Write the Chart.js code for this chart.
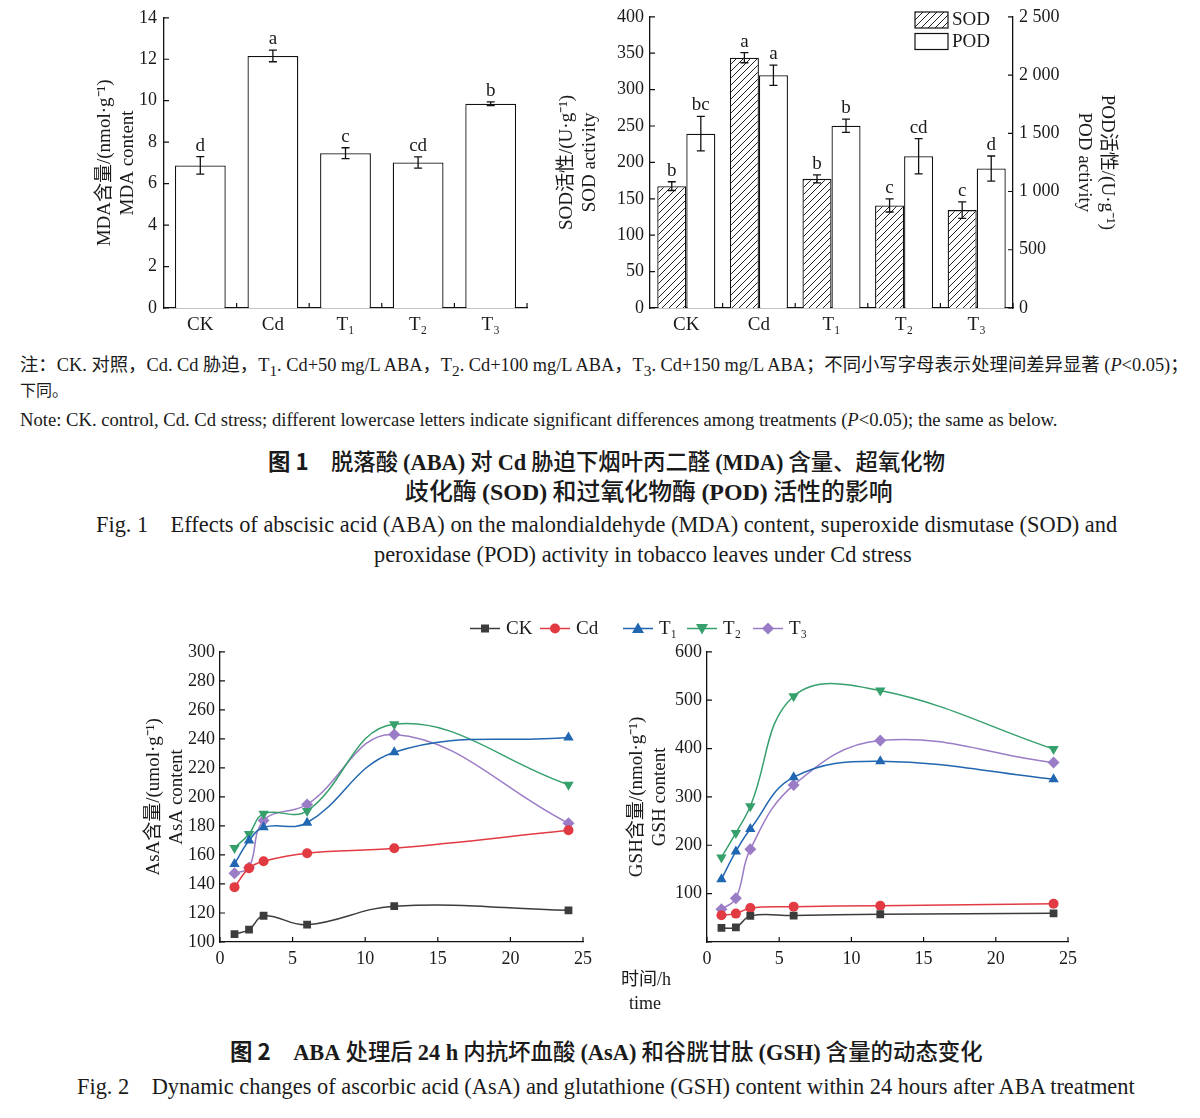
<!DOCTYPE html>
<html>
<head>
<meta charset="utf-8">
<script src="https://cdn.jsdelivr.net/npm/chart.js@4.4.0/dist/chart.umd.min.js"></script>
<style>
  body { margin:0; width:1200px; height:1118px; background:#fff; position:relative; overflow:hidden;
         font-family:'Liberation Serif','Noto Sans CJK SC',serif; color:#1a1a1a; }
  canvas { position:absolute; }
  .t { position:absolute; white-space:nowrap; line-height:1; transform:translateY(-50%); }
  .cap { font-family:'Noto Sans CJK SC',sans-serif; font-weight:500; }
  .cap b { font-family:'Liberation Serif',serif; font-weight:bold; }
  .cap b.h { font-family:'Noto Sans CJK SC',sans-serif; }
  .leg { position:absolute; display:flex; align-items:center; font-size:19px; transform:translateY(-50%); }
  .leg span { margin-left:6px; }
</style>
</head>
<body>

<canvas id="mda" width="470" height="345" style="left:80px;top:0px"></canvas>
<canvas id="sod" width="600" height="345" style="left:550px;top:0px"></canvas>
<canvas id="asa" width="500" height="345" style="left:100px;top:636px"></canvas>
<canvas id="gsh" width="490" height="345" style="left:600px;top:636px"></canvas>

<div class="t" data-w="1170" style="left:20px;top:367px;font-size:16px">注：CK. 对照，Cd. Cd 胁迫，T<sub>1</sub>. Cd+50 mg/L ABA，T<sub>2</sub>. Cd+100 mg/L ABA，T<sub>3</sub>. Cd+150 mg/L ABA；不同小写字母表示处理间差异显著 (<i>P</i>&lt;0.05)；</div>
<div class="t" style="left:20px;top:391px;font-size:16px">下同。</div>
<div class="t" data-w="1038" style="left:20px;top:420px;font-size:17px">Note: CK. control, Cd. Cd stress; different lowercase letters indicate significant differences among treatments (<i>P</i>&lt;0.05); the same as below.</div>

<div class="t cap" data-w="677" style="left:268px;top:462px;font-size:19px"><b class="h">图 1</b>　脱落酸 <b>(ABA)</b> 对 <b>Cd</b> 胁迫下烟叶丙二醛 <b>(MDA)</b> 含量、超氧化物</div>
<div class="t cap" data-w="488" style="left:405px;top:491px;font-size:19px">歧化酶 <b>(SOD)</b> 和过氧化物酶 <b>(POD)</b> 活性的影响</div>
<div class="t" data-w="1022" style="left:96px;top:525px;font-size:20px">Fig. 1　Effects of abscisic acid (ABA) on the malondialdehyde (MDA) content, superoxide dismutase (SOD) and</div>
<div class="t" data-w="538" style="left:374px;top:555px;font-size:20px">peroxidase (POD) activity in tobacco leaves under Cd stress</div>

<div class="t" style="left:621px;top:979px;font-size:18px">时间/h</div>
<div class="t" style="left:629px;top:1003px;font-size:18px">time</div>

<div class="t cap" data-w="753" style="left:230px;top:1052px;font-size:19px"><b class="h">图 2</b>　<b>ABA</b> 处理后 <b>24 h</b> 内抗坏血酸 <b>(AsA)</b> 和谷胱甘肽 <b>(GSH)</b> 含量的动态变化</div>
<div class="t" data-w="1058" style="left:77px;top:1087px;font-size:20px">Fig. 2　Dynamic changes of ascorbic acid (AsA) and glutathione (GSH) content within 24 hours after ABA treatment</div>

<script>
// ---- data: Fig. 1 ----
const groups = ['CK', 'Cd', 'T₁', 'T₂', 'T₃'];
const mda = [6.88, 12.16, 7.47, 7.02, 9.85];
const mdaErr = [0.42, 0.28, 0.26, 0.27, 0.09];
const mdaSig = ['d', 'a', 'c', 'cd', 'b'];
const sod = [167.4, 343.9, 177.4, 140.9, 134.5];
const sodErr = [6, 7, 5.5, 9, 11.4];
const sodSig = ['b', 'a', 'b', 'c', 'c'];
const pod = [1497, 1998, 1565, 1303, 1197];
const podErr = [148, 87, 57, 151, 108];
const podSig = ['bc', 'a', 'b', 'cd', 'd'];
const mdaTicks = [0, 2, 4, 6, 8, 10, 12, 14];
const sodTicks = [0, 50, 100, 150, 200, 250, 300, 350, 400];
const podTicks = [0, 500, 1000, 1500, 2000, 2500];
const podTickLabels = ['0', '500', '1 000', '1 500', '2 000', '2 500'];

// ---- data: Fig. 2 ----
const hours = [1, 2, 3, 6, 12, 24];
const seriesNames = ['CK', 'Cd', 'T₁', 'T₂', 'T₃'];
const seriesColors = ['#3c3c3c', '#e23a42', '#2166b0', '#36a06c', '#9b7cc6'];
const asaCK = [105.5, 108.5, 118.1, 111.9, 124.7, 121.8];
const asaCd = [137.8, 150.9, 155.7, 161.2, 164.6, 177.0];
const asaT1 = [153.8, 169.9, 179.0, 182.2, 230.8, 240.9];
const asaT2 = [164.8, 174.5, 188.4, 190.3, 250.1, 208.4];
const asaT3 = [147.4, 151.3, 183.8, 194.8, 243.0, 181.8];
const gshCK = [29.4, 30.1, 54.0, 54.6, 57.4, 59.4];
const gshCd = [55.3, 58.7, 70.4, 73.1, 75.1, 79.2];
const gshT1 = [129.8, 187.2, 233.6, 340.8, 373.6, 336.7];
const gshT2 = [174.9, 225.4, 280.7, 508.2, 519.8, 398.9];
const gshT3 = [67.6, 90.2, 191.9, 324.5, 416.7, 370.9];
const timeTicks = [0, 5, 10, 15, 20, 25];
const asaTicks = [100, 120, 140, 160, 180, 200, 220, 240, 260, 280, 300];
const gshTicks = [0, 100, 200, 300, 400, 500, 600];

const FONT = "'Liberation Serif','Noto Sans CJK SC',serif";
Chart.defaults.font.family = FONT;
Chart.defaults.font.size = 18;
Chart.defaults.color = '#1a1a1a';
Chart.defaults.animation = false;

// diagonal hatch for SOD bars
function hatch() {
  const c = document.createElement('canvas');
  c.width = c.height = 7;
  const g = c.getContext('2d');
  g.fillStyle = '#fff'; g.fillRect(0, 0, 7, 7);
  g.strokeStyle = '#222'; g.lineWidth = 1;
  g.beginPath();
  g.moveTo(0, 7); g.lineTo(7, 0);
  g.moveTo(-1, 1); g.lineTo(1, -1);
  g.moveTo(6, 8); g.lineTo(8, 6);
  g.stroke();
  return g.createPattern(c, 'repeat');
}

// error bars + significance letters
const errBars = {
  id: 'errBars',
  afterDatasetsDraw(chart) {
    const ctx = chart.ctx;
    chart.data.datasets.forEach((ds, i) => {
      if (!ds.errors) return;
      const meta = chart.getDatasetMeta(i);
      const ys = chart.scales[meta.yAxisID];
      meta.data.forEach((bar, j) => {
        const top = ys.getPixelForValue(ds.data[j] + ds.errors[j]);
        const bot = ys.getPixelForValue(ds.data[j] - ds.errors[j]);
        ctx.save();
        ctx.strokeStyle = '#111'; ctx.lineWidth = 1.3;
        ctx.beginPath();
        ctx.moveTo(bar.x, top); ctx.lineTo(bar.x, bot);
        ctx.moveTo(bar.x - 4, top); ctx.lineTo(bar.x + 4, top);
        ctx.moveTo(bar.x - 4, bot); ctx.lineTo(bar.x + 4, bot);
        ctx.stroke();
        ctx.fillStyle = '#1a1a1a';
        ctx.font = '19px ' + FONT;
        ctx.textAlign = 'center';
        ctx.fillText(ds.letters[j], bar.x, top - 6);
        ctx.restore();
      });
    });
  }
};

// small tick marks pointing into the plot
const inTicks = {
  id: 'inTicks',
  afterDraw(chart) {
    const ctx = chart.ctx;
    ctx.save();
    ctx.strokeStyle = '#111'; ctx.lineWidth = 1.2;
    Object.values(chart.scales).forEach(s => {
      ctx.beginPath();
      if (s.axis === 'y') {
        const x0 = s.position === 'left' ? s.right : s.left;
        const d = s.position === 'left' ? 5 : -5;
        s.ticks.forEach((t, i) => { const y = s.getPixelForTick(i); ctx.moveTo(x0, y); ctx.lineTo(x0 + d, y); });
      } else if (s.type === 'category') {
        for (let i = 1; i <= s.ticks.length; i++) {
          const x = s.getPixelForValue(i - 0.5);
          ctx.moveTo(x, s.top); ctx.lineTo(x, s.top - 5);
        }
      } else {
        s.ticks.forEach((t, i) => { const x = s.getPixelForTick(i); ctx.moveTo(x, s.top); ctx.lineTo(x, s.top - 5); });
      }
      ctx.stroke();
    });
    ctx.restore();
  }
};

// SOD/POD legend in the top right corner
const boxLegend = {
  id: 'boxLegend',
  afterDraw(chart) {
    const ctx = chart.ctx;
    const x = chart.chartArea.right - 98;
    chart.data.datasets.forEach((ds, i) => {
      const y = 12 + i * 21.5;
      ctx.save();
      ctx.fillStyle = ds.backgroundColor;
      ctx.fillRect(x, y, 33, 16);
      ctx.strokeStyle = '#111'; ctx.lineWidth = 1.2;
      ctx.strokeRect(x, y, 33, 16);
      ctx.fillStyle = '#1a1a1a';
      ctx.font = '19px ' + FONT;
      ctx.textBaseline = 'middle';
      ctx.fillText(ds.label, x + 37, y + 8.5);
      ctx.restore();
    });
  }
};

function yAxis(ticks, width, title, titlePad, extra) {
  return Object.assign({
    min: ticks[0], max: ticks[ticks.length - 1],
    afterBuildTicks: s => { s.ticks = ticks.map(v => ({ value: v })); },
    afterFit: s => { s.width = width; },
    grid: { display: false, drawTicks: false },
    border: { color: '#111', width: 1.3 },
    ticks: { padding: 6, font: { size: 18 } },
    title: { display: true, text: title, font: { size: 19, lineHeight: 1.22 }, padding: { top: titlePad, bottom: 0 } }
  }, extra || {});
}

// ---- Fig. 1 left: MDA ----
new Chart(document.getElementById('mda'), {
  type: 'bar',
  data: {
    labels: groups,
    datasets: [{ label: 'MDA', data: mda, errors: mdaErr, letters: mdaSig,
      backgroundColor: '#fff', borderColor: '#111', borderWidth: 1.3,
      barPercentage: 0.7, categoryPercentage: 1 }]
  },
  options: {
    responsive: false,
    layout: { padding: { top: 16, right: 23, left: 0, bottom: 0 } },
    plugins: { legend: { display: false }, tooltip: { enabled: false } },
    scales: {
      x: { grid: { display: false, drawTicks: false }, border: { color: '#111', width: 1.3 },
           ticks: { padding: 6, font: { size: 19 } }, afterFit: s => { s.height = 37; } },
      y: yAxis(mdaTicks, 84, ['MDA含量/(nmol·g⁻¹)', 'MDA content'], 13.5, { ticks: { padding: 7, font: { size: 18 } } })
    }
  },
  plugins: [errBars, inTicks]
});

// ---- Fig. 1 right: SOD / POD ----
new Chart(document.getElementById('sod'), {
  type: 'bar',
  data: {
    labels: groups,
    datasets: [
      { label: 'SOD', data: sod, errors: sodErr, letters: sodSig, yAxisID: 'y',
        backgroundColor: hatch(), borderColor: '#111', borderWidth: 1.3,
        barPercentage: 1, categoryPercentage: 0.8 },
      { label: 'POD', data: pod, errors: podErr, letters: podSig, yAxisID: 'y1',
        backgroundColor: '#fff', borderColor: '#111', borderWidth: 1.3,
        barPercentage: 1, categoryPercentage: 0.8 }
    ]
  },
  options: {
    responsive: false,
    layout: { padding: { top: 16, right: 27, left: 0, bottom: 0 } },
    plugins: { legend: { display: false }, tooltip: { enabled: false } },
    scales: {
      x: { grid: { display: false, drawTicks: false }, border: { color: '#111', width: 1.3 },
           ticks: { padding: 6, font: { size: 19 } }, afterFit: s => { s.height = 37; } },
      y: yAxis(sodTicks, 100, ['SOD活性/(U·g⁻¹)', 'SOD activity'], 5, { position: 'left' }),
      y1: yAxis(podTicks, 110, ['POD活性/(U·g⁻¹)', 'POD activity'], 4, {
        position: 'right',
        ticks: { padding: 6, font: { size: 18 }, callback: (v, i) => podTickLabels[i] }
      })
    }
  },
  plugins: [errBars, inTicks, boxLegend]
});

// ---- Fig. 2 line charts ----
const shapes = [
  { style: 'rect', radius: 5.5, rot: 0 },
  { style: 'circle', radius: 5, rot: 0 },
  { style: 'triangle', radius: 6, rot: 0 },
  { style: 'triangle', radius: 6, rot: 180 },
  { style: 'rectRot', radius: 6, rot: 0 }
];

function lineSets(list) {
  return list.map((vals, i) => ({
    label: seriesNames[i],
    data: hours.map((h, j) => ({ x: h, y: vals[j] })),
    borderColor: seriesColors[i], backgroundColor: seriesColors[i],
    borderWidth: 1.5, tension: 0.4,
    pointStyle: shapes[i].style, pointRadius: shapes[i].radius, pointRotation: shapes[i].rot,
    pointBorderWidth: 0
  }));
}

function lineChart(id, sets, yTicks, yWidth, title, titlePad, padTop, padRight, hideZero) {
  new Chart(document.getElementById(id), {
    type: 'line',
    data: { datasets: lineSets(sets) },
    options: {
      responsive: false,
      layout: { padding: { top: padTop, right: padRight, left: 0, bottom: 0 } },
      plugins: { legend: { display: false }, tooltip: { enabled: false } },
      scales: {
        x: {
          type: 'linear', min: 0, max: 25,
          afterBuildTicks: s => { s.ticks = timeTicks.map(v => ({ value: v })); },
          afterFit: s => { s.height = 39; },
          grid: { display: false, drawTicks: false }, border: { color: '#111', width: 1.3 },
          ticks: { padding: 6, font: { size: 18 } }
        },
        y: yAxis(yTicks, yWidth, title, titlePad, {
          ticks: { padding: 5, font: { size: 18 }, callback: v => (hideZero && v === 0 ? '' : v) }
        })
      }
    },
    plugins: [inTicks]
  });
}

lineChart('asa', [asaCK, asaCd, asaT1, asaT2, asaT3], asaTicks, 120,
  ['AsA含量/(umol·g⁻¹)', 'AsA content'], 42, 15, 17, false);
lineChart('gsh', [gshCK, gshCd, gshT1, gshT2, gshT3], gshTicks, 107,
  ['GSH含量/(nmol·g⁻¹)', 'GSH content'], 25, 13, 22, true);

// shared legend for Fig. 2
const legendX = [470, 540, 623, 687, 753];
const markerSvg = [
  '<rect x="11" y="3.5" width="8" height="8"/>',
  '<circle cx="15" cy="7.5" r="5"/>',
  '<polygon points="15,1.5 21,12 9,12"/>',
  '<polygon points="9,3 21,3 15,13.5"/>',
  '<polygon points="15,1.5 21,7.5 15,13.5 9,7.5"/>'
];
seriesNames.forEach((name, i) => {
  const d = document.createElement('div');
  d.className = 'leg';
  d.style.left = legendX[i] + 'px';
  d.style.top = '628px';
  d.innerHTML = '<svg width="30" height="15"><line x1="0" y1="7.5" x2="30" y2="7.5" stroke="' + seriesColors[i] +
    '" stroke-width="1.5"/><g fill="' + seriesColors[i] + '">' + markerSvg[i] + '</g></svg><span>' + name + '</span>';
  document.body.appendChild(d);
});

// stretch caption/note lines to the widths they take in the figure
document.querySelectorAll('.t[data-w]').forEach(el => {
  const w = el.getBoundingClientRect().width;
  const fs = parseFloat(el.style.fontSize);
  el.style.fontSize = (fs * parseFloat(el.dataset.w) / w).toFixed(2) + 'px';
});
</script>
</body>
</html>
